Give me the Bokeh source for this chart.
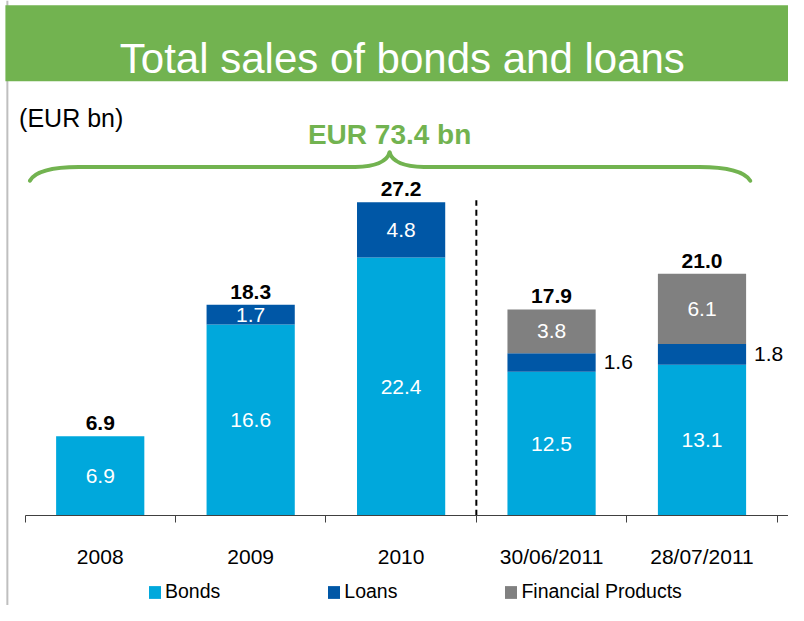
from bokeh.plotting import figure
from bokeh.models import Range1d, FixedTicker, Label, BoxAnnotation, Span, ColumnDataSource
from bokeh.core.properties import value
from bokeh.embed import file_html
from bokeh.resources import INLINE

# ---------------- data ----------------
categories = ["2008", "2009", "2010", "30/06/2011", "28/07/2011"]
bonds = [6.9, 16.6, 22.4, 12.5, 13.1]
loans = [0.0, 1.7, 4.8, 1.6, 1.8]
financial = [0.0, 0.0, 0.0, 3.8, 6.1]
totals = [6.9, 18.3, 27.2, 17.9, 21.0]
series_names = ["Bonds", "Loans", "Financial Products"]
title_text = "Total sales of bonds and loans"
unit_text = "(EUR bn)"
overall_text = "EUR 73.4 bn"
n_historic = 3  # separator after the yearly figures

# ---------------- style / layout ----------------
FONT = "Liberation Sans"
GREEN = "#72B350"
C_BONDS = "#00A8DC"
C_LOANS = "#0057A6"
C_FIN = "#808080"
AXIS_C = "#404040"

W, H = 788, 605
SX, SY = W / 804.0, H / 621.0       # reference picture -> canvas
BASE_Y = 529 * SY                   # baseline (canvas px from top)
PX = (529 - 207) * SY / 27.2        # pixels per data unit
Y_MAX = BASE_Y / PX
Y_MIN = -(H - BASE_Y) / PX
X_LEFT_PX = 25.0 * SX
CAT_PX = 153.5 * SX
X_MIN = -X_LEFT_PX / CAT_PX
X_MAX = (W - X_LEFT_PX) / CAT_PX
BAR_W = 90 / 153.5


def dx(ref_x):
    return (ref_x * SX - X_LEFT_PX) / CAT_PX


def dy(ref_y):
    return (BASE_Y - ref_y * SY) / PX


xs = [i + 0.5 for i in range(len(categories))]
source = ColumnDataSource(dict(x=xs, Bonds=bonds, Loans=loans, Fin=financial))

p = figure(width=W, height=H, x_range=Range1d(X_MIN, X_MAX), y_range=Range1d(Y_MIN, Y_MAX),
           output_backend="svg", toolbar_location=None, y_axis_location=None,
           min_border_left=0, min_border_right=0, min_border_top=0, min_border_bottom=0,
           outline_line_color=None, background_fill_color="white", border_fill_color="white")
p.grid.visible = False

# left border line and title band
p.add_layout(Span(location=dx(7), dimension="height", line_color="#BFBFBF", line_width=2))
p.add_layout(BoxAnnotation(left=dx(5), top=dy(5), bottom=dy(83), fill_color=GREEN,
                           fill_alpha=1.0, line_color=None))
p.add_layout(Label(x=dx(410), y=dy(60), text=title_text, text_color="white",
                   text_font=FONT, text_font_size="42px", text_align="center",
                   text_baseline="alphabetic"))
p.add_layout(Label(x=dx(19), y=dy(121), text=unit_text, text_color="black",
                   text_font=FONT, text_font_size="25px", text_align="left",
                   text_baseline="alphabetic"))
p.add_layout(Label(x=dx(397), y=dy(138), text=overall_text, text_color=GREEN,
                   text_font=FONT, text_font_size="28px", text_font_style="bold",
                   text_align="center", text_baseline="alphabetic"))

# brace
q = dict(x0=[dx(30), dx(362), dx(397), dx(713)],
         y0=[dy(185), dy(171), dy(156), dy(171)],
         x1=[dx(80), dx(397), dx(432), dx(765)],
         y1=[dy(171), dy(156), dy(171), dy(185)],
         cx=[dx(38), dx(393), dx(401), dx(756)],
         cy=[dy(171), dy(170), dy(170), dy(171)])
p.quadratic(x0="x0", y0="y0", x1="x1", y1="y1", cx="cx", cy="cy",
            source=ColumnDataSource(q), line_color=GREEN, line_width=4, line_cap="round")
p.segment(x0=[dx(80), dx(432)], y0=[dy(171)] * 2, x1=[dx(362), dx(713)], y1=[dy(171)] * 2,
          line_color=GREEN, line_width=4)

# bars
p.vbar_stack(["Bonds", "Loans", "Fin"], x="x", width=BAR_W, source=source,
             color=[C_BONDS, C_LOANS, C_FIN], line_color=None,
             legend_label=series_names)

# separator
p.segment(x0=[n_historic], y0=[0], x1=[n_historic], y1=[dy(205)],
          line_color="black", line_width=2, line_dash="6 4")

# value labels
in_x, in_y, in_t = [], [], []
out_x, out_y, out_t = [], [], []
for i, xv in enumerate(xs):
    b, l, f = bonds[i], loans[i], financial[i]
    in_x.append(xv); in_y.append(b / 2); in_t.append(f"{b:.1f}")
    if l > 0:
        if f > 0:
            out_x.append(xv + BAR_W / 2 + 8 / CAT_PX); out_y.append(b + l / 2); out_t.append(f"{l:.1f}")
        else:
            in_x.append(xv); in_y.append(b + l / 2); in_t.append(f"{l:.1f}")
    if f > 0:
        in_x.append(xv); in_y.append(b + l + f / 2); in_t.append(f"{f:.1f}")

p.text(x=in_x, y=in_y, text=in_t, text_color="white", text_font=value(FONT),
       text_font_size="21px", text_align="center", text_baseline="middle")
p.text(x=out_x, y=out_y, text=out_t, text_color="black", text_font=value(FONT),
       text_font_size="21px", text_align="left", text_baseline="middle")
p.text(x=xs, y=[t + 13 / PX for t in totals], text=[f"{t:.1f}" for t in totals],
       text_color="black", text_font=value(FONT), text_font_size="21px",
       text_font_style="bold", text_align="center", text_baseline="alphabetic")

# x axis, pinned at the zero line
ax = p.xaxis[0]
ax.fixed_location = 0
ax.ticker = FixedTicker(ticks=xs, minor_ticks=list(range(len(categories) + 1)))
ax.major_label_overrides = {xv: c for xv, c in zip(xs, categories)}
ax.major_tick_line_color = None
ax.major_tick_out = 0
ax.major_tick_in = 0
ax.minor_tick_out = 7
ax.minor_tick_in = 0
ax.minor_tick_line_color = AXIS_C
ax.axis_line_color = AXIS_C
ax.bounds = (0, len(categories) + 1)
ax.major_label_text_font = FONT
ax.major_label_text_font_size = "21px"
ax.major_label_text_color = "black"
ax.major_label_standoff = 22

# legend
leg = p.legend[0]
leg.location = (150 * SX, 2)
leg.orientation = "horizontal"
leg.spacing = 106
leg.glyph_width = 15
leg.glyph_height = 16
leg.label_standoff = 3
leg.padding = 0
leg.margin = 0
leg.border_line_color = None
leg.background_fill_alpha = 0
leg.label_text_font = FONT
leg.label_text_font_size = "19.5px"
leg.label_text_color = "black"

open("out.html", "w").write(file_html(p, INLINE))
